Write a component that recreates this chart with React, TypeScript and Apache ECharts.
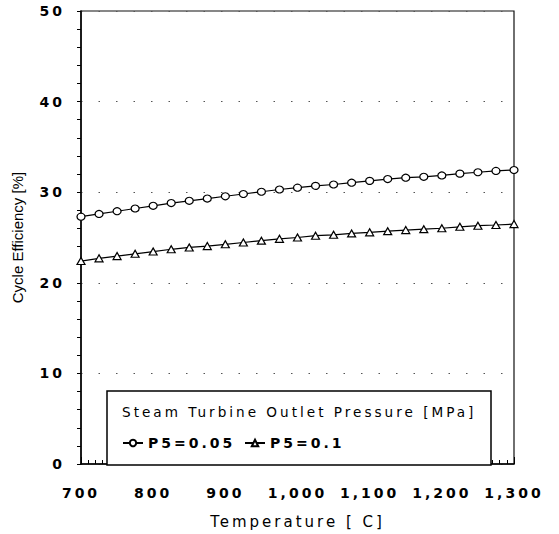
import React, { useEffect, useRef } from "react";
import * as echarts from "echarts";

const temperatures = [700, 725, 750, 775, 800, 825, 850, 875, 900, 925, 950, 975, 1000, 1025, 1050, 1075, 1100, 1125, 1150, 1175, 1200, 1225, 1250, 1275, 1300];
const effP005 = [27.3, 27.6, 27.9, 28.2, 28.5, 28.8, 29.05, 29.3, 29.55, 29.8, 30.05, 30.3, 30.5, 30.7, 30.85, 31.05, 31.25, 31.45, 31.6, 31.7, 31.85, 32.05, 32.2, 32.35, 32.45];
const effP01 = [22.4, 22.7, 22.95, 23.2, 23.45, 23.7, 23.9, 24.05, 24.25, 24.45, 24.65, 24.85, 25.0, 25.2, 25.3, 25.45, 25.57, 25.7, 25.82, 25.92, 26.02, 26.18, 26.3, 26.38, 26.48];
const seriesNames = ["P5=0.05", "P5=0.1"];
const legendTitle = "Steam Turbine Outlet Pressure [MPa]";
const xTitle = "Temperature [ C]";
const yTitle = "Cycle Efficiency [%]";

const WIDE = "DejaVu Sans";

export default function App() {
  const ref = useRef<HTMLDivElement>(null);
  useEffect(() => {
    if (!ref.current) return;
    const chart = echarts.init(ref.current, null, { renderer: "svg" });
    const toPairs = (vals: number[]) => temperatures.map((t, i) => [t, vals[i]]);
    const legendText = { fontFamily: WIDE, fontWeight: "bold", fontSize: 14, color: "#000" };
    chart.setOption({
      animation: false,
      backgroundColor: "#fff",
      grid: {
        left: 81,
        right: 45,
        top: 11,
        bottom: 64.5,
        show: true,
        borderColor: "#111",
        borderWidth: 1.2,
        backgroundColor: "transparent",
      },
      xAxis: {
        type: "value",
        min: 700,
        max: 1300,
        interval: 100,
        name: xTitle,
        nameLocation: "middle",
        nameGap: 50,
        nameTextStyle: { fontFamily: WIDE, fontSize: 15, color: "#000" },
        axisLine: { show: true, lineStyle: { color: "#000", width: 1.5 } },
        axisTick: { show: true, inside: true, length: 7, lineStyle: { color: "#000", width: 1 } },
        minorTick: { show: true, splitNumber: 10, length: 4, lineStyle: { color: "#000", width: 1 } },
        splitLine: { show: false },
        axisLabel: {
          margin: 22,
          fontFamily: WIDE,
          fontWeight: "bold",
          fontSize: 14,
          color: "#000",
          formatter: (v: number) => v.toLocaleString("en-US"),
        },
      },
      yAxis: {
        type: "value",
        min: 0,
        max: 50,
        interval: 10,
        name: yTitle,
        nameLocation: "middle",
        nameGap: 56,
        nameTextStyle: { fontFamily: "Liberation Sans", fontSize: 15, color: "#000" },
        axisLine: { show: true, lineStyle: { color: "#000", width: 1.5 } },
        axisTick: { show: true, length: 4, lineStyle: { color: "#000", width: 1 } },
        minorTick: { show: true, splitNumber: 5, length: 4, lineStyle: { color: "#000", width: 1 } },
        splitLine: { show: true, lineStyle: { type: [1.5, 16], color: "#555", width: 1 } },
        axisLabel: {
          margin: 16,
          fontFamily: WIDE,
          fontWeight: "bold",
          fontSize: 14,
          color: "#000",
        },
      },
      legend: [
        {
          data: [seriesNames[0]],
          left: 122,
          top: 436,
          padding: 0,
          itemWidth: 20,
          itemHeight: 8,
          textStyle: legendText,
          z: 20,
        },
        {
          data: [seriesNames[1]],
          left: 244,
          top: 436,
          padding: 0,
          itemWidth: 20,
          itemHeight: 8,
          itemGap: 3,
          textStyle: legendText,
          z: 20,
        },
      ],
      graphic: [
        {
          type: "rect",
          z: 10,
          shape: { x: 107, y: 391, width: 384, height: 74 },
          style: { fill: "#fff", stroke: "#000", lineWidth: 1.5 },
        },
        {
          type: "text",
          z: 11,
          x: 122,
          y: 412,
          style: {
            text: legendTitle,
            fontFamily: WIDE,
            fontSize: 13.6,
            fill: "#000",
            textAlign: "left",
            textVerticalAlign: "middle",
          },
        },
      ],
      series: [
        {
          name: seriesNames[0],
          type: "line",
          data: toPairs(effP005),
          symbol: "circle",
          symbolSize: [8, 7],
          color: "#000",
          lineStyle: { color: "#000", width: 1.2 },
          itemStyle: { color: "#fff", borderColor: "#000", borderWidth: 1.2 },
          z: 5,
        },
        {
          name: seriesNames[1],
          type: "line",
          data: toPairs(effP01),
          symbol: "triangle",
          symbolSize: [8, 7],
          color: "#000",
          lineStyle: { color: "#000", width: 1.2 },
          itemStyle: { color: "#fff", borderColor: "#000", borderWidth: 1.2 },
          z: 5,
        },
      ],
    });
    return () => chart.dispose();
  }, []);
  return (
    <>
      <style>{`#chart text[style*="DejaVu"]{letter-spacing:3px}`}</style>
      <div
        id="chart"
        ref={ref}
        style={{ position: "absolute", left: 0, top: 0, width: 559, height: 534 }}
      />
    </>
  );
}
